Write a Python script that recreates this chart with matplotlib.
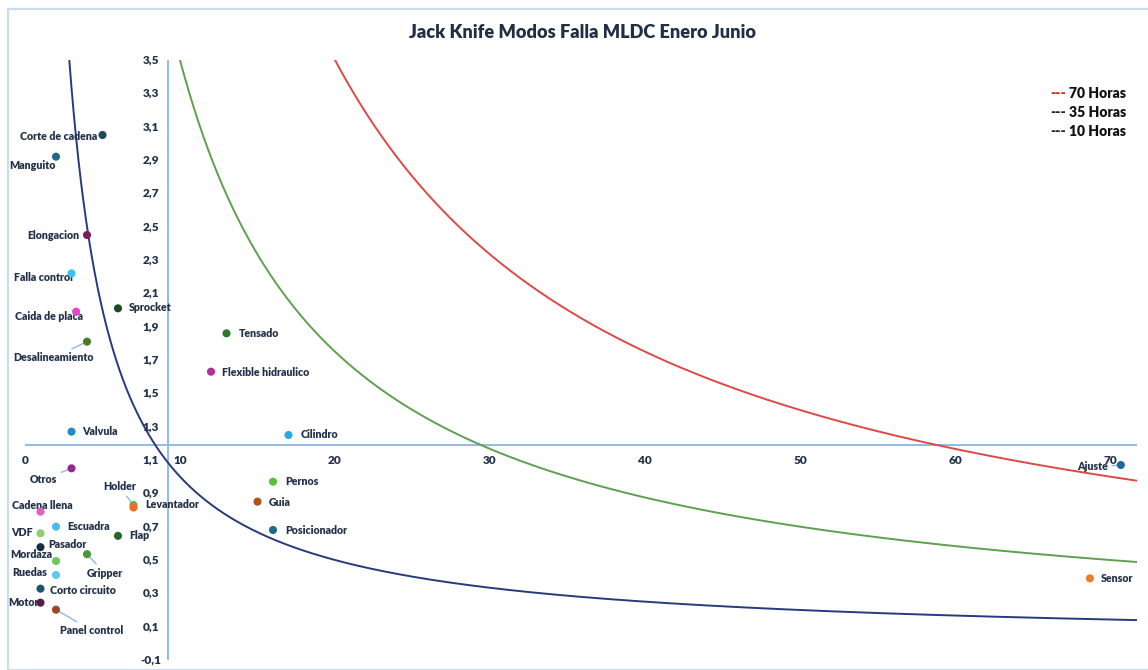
import numpy as np
import matplotlib
matplotlib.use("Agg")
import matplotlib.pyplot as plt
from matplotlib.patches import Rectangle

# Failure modes: frequency (x) vs mean repair time in hours (y)
modes = ["Corte de cadena", "Manguito", "Elongacion", "Falla control", "Caida de placa",
         "Sprocket", "Desalineamiento", "Valvula", "Tensado", "Flexible hidraulico",
         "Cilindro", "Pernos", "Guia", "Posicionador", "Otros", "Holder", "Levantador",
         "Cadena llena", "Escuadra", "VDF", "Flap", "Pasador", "Gripper", "Mordaza",
         "Ruedas", "Corto circuito", "Motor", "Panel control", "Ajuste", "Sensor"]
freq = [5, 2, 4, 3, 3.3, 6, 4, 3, 13, 12, 17, 16, 15, 16, 3, 7, 7,
        1, 2, 1, 6, 1, 4, 2, 2, 1, 1, 2, 70.7, 68.7]
mttr = [3.05, 2.92, 2.45, 2.22, 1.99, 2.01, 1.81, 1.27, 1.86, 1.63, 1.25, 0.97, 0.85, 0.68,
        1.05, 0.83, 0.815, 0.79, 0.70, 0.66, 0.645, 0.577, 0.535, 0.494, 0.41, 0.328,
        0.244, 0.202, 1.07, 0.39]

# Constant-downtime iso-lines (hours)
iso_hours = [70, 35, 10]
iso_labels = ["70 Horas", "35 Horas", "10 Horas"]

# Axis crossing thresholds
x_cross = 9.2
y_cross = 1.19

x_ticks = [0, 10, 20, 30, 40, 50, 60, 70]
y_ticks = [3.5, 3.3, 3.1, 2.9, 2.7, 2.5, 2.3, 2.1, 1.9, 1.7, 1.5, 1.3, 1.1, 0.9, 0.7,
           0.5, 0.3, 0.1, -0.1]

# ---- styling ----
point_colors = ["#1b4a5c", "#1f6a88", "#7a1f5c", "#3cc0f2", "#e048c8",
                "#1e4a20", "#4c7a2a", "#1f8cc4", "#2a7a2e", "#b2309e",
                "#2aa8e8", "#5cbf3c", "#b4501e", "#1f6a8c", "#962a8c", "#6ab04c", "#ec6e2a",
                "#e060c4", "#48b8f0", "#90d070", "#2a662a", "#173040", "#4a963a", "#66cc50",
                "#5cc8f6", "#1a566a", "#5a1a4a", "#9a4a20", "#1f6a9a", "#f07a30"]
iso_colors = ["#e04848", "#5fa050", "#263a7c"]

# label placement: (dx px, dy px, ha, leader)
label_pos = {
    "Corte de cadena": (-5, -2, "right", False),
    "Manguito": (0, -9, "right", False),
    "Elongacion": (-8, -1, "right", False),
    "Falla control": (1, -4, "right", False),
    "Caida de placa": (7, -5, "right", False),
    "Sprocket": (11, 1, "left", False),
    "Desalineamiento": (-34, -16, "center", True),
    "Valvula": (11, 0, "left", False),
    "Tensado": (12, 0, "left", False),
    "Flexible hidraulico": (11, -1, "left", False),
    "Cilindro": (12, 0, "left", False),
    "Pernos": (12, 0, "left", False),
    "Guia": (11, -1, "left", False),
    "Posicionador": (12, 0, "left", False),
    "Otros": (-14, -11, "right", True),
    "Holder": (-14, 18, "center", True),
    "Levantador": (12, 3, "left", False),
    "Cadena llena": (2, 6, "center", False),
    "Escuadra": (11, 0, "left", False),
    "VDF": (-8, 1, "right", False),
    "Flap": (11, 0, "left", False),
    "Pasador": (8, 3, "left", False),
    "Gripper": (18, -19, "center", True),
    "Mordaza": (-4, 6, "right", False),
    "Ruedas": (-9, 3, "right", False),
    "Corto circuito": (9, -2, "left", False),
    "Motor": (-2, 0, "right", False),
    "Panel control": (36, -21, "center", True),
    "Ajuste": (-13, -2, "right", True),
    "Sensor": (11, 0, "left", False),
}

FONT = "Lato"
TXT = "#22324a"
AXIS = "#8fbbea"
LEADER = "#8fb8e6"

W, H = 1148, 670
fig = plt.figure(figsize=(W / 100, H / 100), dpi=100)
fig.patch.set_facecolor("white")

# chart border
fig.patches.append(Rectangle((8 / W, 0), 1.2, 1 - 9 / H, transform=fig.transFigure,
                             fill=False, edgecolor="#c9dcf2", lw=1.6, zorder=0))

ax = fig.add_axes([25 / W, 10 / H, 1112 / W, 600 / H])
ax.set_xlim(0, 1112 / 15.5)
ax.set_ylim(-0.1, 3.5)
ax.axis("off")

# iso-downtime curves
xs = np.linspace(0.5, 75, 2000)
for h, c in zip(iso_hours, iso_colors):
    ax.plot(xs, h / xs, color=c, lw=1.4, zorder=2)

# crossing axes
ax.plot([x_cross, x_cross], [-0.1, 3.5], color=AXIS, lw=1.4, zorder=1)
ax.plot([0, 1112 / 15.5], [y_cross, y_cross], color=AXIS, lw=1.4, zorder=1)

for t in y_ticks:
    ax.annotate(f"{t:.1f}".replace(".", ","), (x_cross, t), xytext=(-17, 0),
                textcoords="offset pixels", ha="center", va="center",
                fontsize=8.5, fontweight="heavy", color=TXT, family=FONT)
for t in x_ticks:
    ax.annotate(str(t), (t, y_cross), xytext=(0, -15), textcoords="offset pixels",
                ha="center", va="center", fontsize=8.5, fontweight="heavy",
                color=TXT, family=FONT)

# points and labels
ax.scatter(freq, mttr, s=34, c=point_colors, zorder=4, linewidths=0)
for name, x, y in zip(modes, freq, mttr):
    dx, dy, ha, leader = label_pos[name]
    kw = {}
    if leader:
        kw["arrowprops"] = dict(arrowstyle="-", color=LEADER, lw=1.0,
                                shrinkA=1, shrinkB=3)
    ax.annotate(name, (x, y), xytext=(dx, dy), textcoords="offset pixels",
                ha=ha, va="center", fontsize=7.7, fontweight="heavy",
                color=TXT, family=FONT, zorder=3, **kw)

# title
fig.text(582 / W, 1 - 32 / H, "Jack Knife Modos Falla MLDC Enero Junio",
         ha="center", va="center", fontsize=13.1, fontweight="heavy",
         color="#1f2f45", family=FONT)

# legend as text box
for i, (lab, c) in enumerate(zip(iso_labels, ["#e02020", "#222222", "#222222"])):
    yy = 1 - (93 + 19.5 * i) / H
    fig.text(1050 / W, yy, "---", ha="left", va="center", fontsize=10,
             fontweight="heavy", color=c, family=FONT)
    fig.text(1069 / W, yy, lab, ha="left", va="center", fontsize=10,
             fontweight="heavy", color="#111111", family=FONT)

fig.savefig("out.png", dpi=100)
